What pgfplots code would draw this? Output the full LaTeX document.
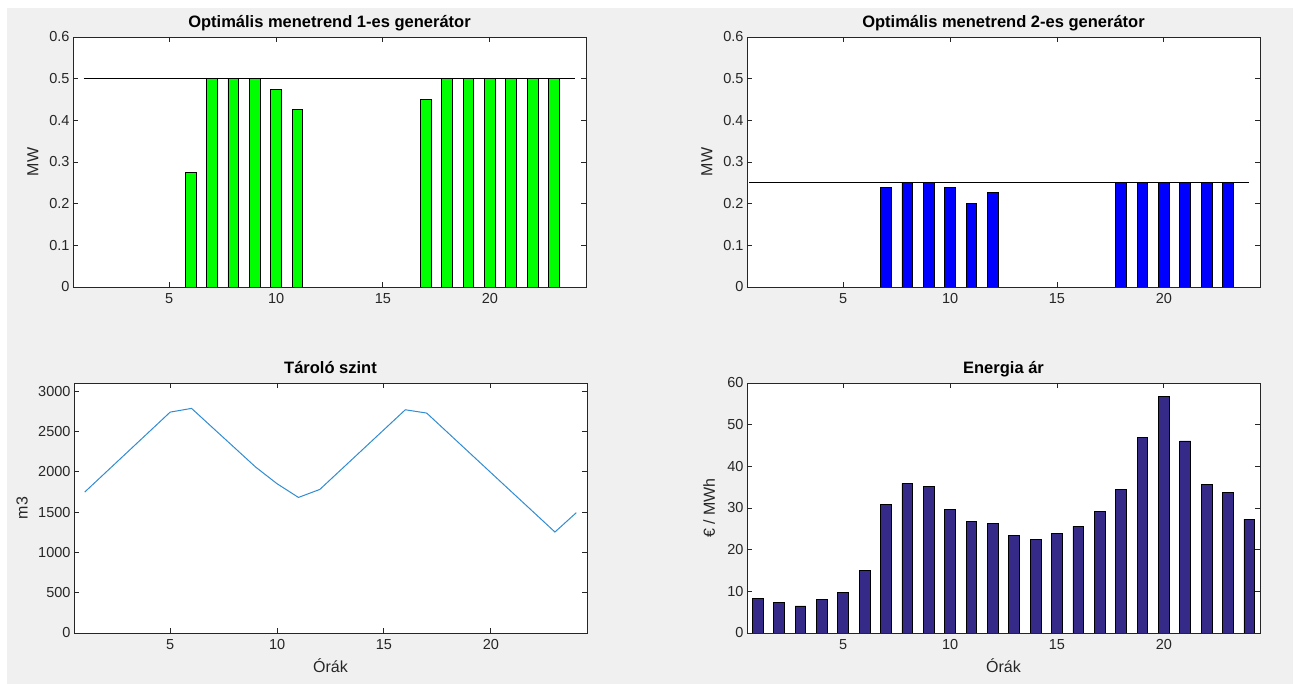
\documentclass[border=0pt]{standalone}
\usepackage{pgfplots}
\pgfplotsset{compat=1.18}
\usepackage{fontspec}
\setmainfont{Liberation Sans}
\definecolor{bg}{RGB}{240,240,240}
\definecolor{axc}{RGB}{38,38,38}
\definecolor{genone}{RGB}{0,255,0}
\definecolor{gentwo}{RGB}{0,0,255}
\definecolor{navy}{RGB}{53,42,135}
\definecolor{lineblue}{RGB}{50,140,210}
\pgfplotsset{
 mystyle/.style={
  scale only axis, width=513pt, height=250pt,
  xmin=0.5, xmax=24.5, xtick={5,10,15,20},
  axis line style={axc, line width=0.9pt},
  tick style={axc, line width=0.9pt},
  major tick length=5pt,
  tick align=inside,
  axis background/.style={fill=white},
  tick label style={font=\fontsize{14.5}{17}\selectfont, text=axc},
  xticklabel style={yshift=-3pt},
  /pgf/number format/assume math mode=true,
  /pgf/number format/1000 sep={},
  title style={font=\fontsize{16.5}{19}\selectfont\bfseries, at={(axis description cs:0.5,1)}, anchor=base, yshift=3pt},
  xlabel style={font=\fontsize{16}{19}\selectfont, text=axc, at={(axis description cs:0.5,0)}, anchor=base, yshift=-40pt},
  every axis y label/.style={font=\fontsize{16}{19}\selectfont, text=axc, at={(axis description cs:-0.078,0.5)}, rotate=90, anchor=center},
 },
 mwstyle/.style={ymin=0, ymax=0.6, ytick={0,0.1,0.2,0.3,0.4,0.5,0.6},
  yticklabel style={/pgf/number format/fixed, /pgf/number format/precision=1}, ylabel={MW}},
}
\begin{document}
\begin{tikzpicture}[x=1pt,y=1pt]
\fill[white] (0,0) rectangle (1298,684);
\fill[bg] (7,0) rectangle (1293,676);
\useasboundingbox (0,0) rectangle (1298,684);

% Top-left: generator 1
\begin{axis}[mystyle, mwstyle, at={(73pt,397pt)}, anchor=south west,
  title={Optimális menetrend 1-es generátor}]
\addplot[ybar, bar width=0.5, fill=genone, draw=black, line width=0.8pt] coordinates {
(6,0.275)(7,0.5)(8,0.5)(9,0.5)(10,0.475)(11,0.427)
(17,0.451)(18,0.5)(19,0.5)(20,0.5)(21,0.5)(22,0.5)(23,0.5)};
\addplot[black, line width=0.9pt] coordinates {(1,0.5)(24,0.5)};
\end{axis}

% Top-right: generator 2
\begin{axis}[mystyle, mwstyle, at={(747pt,397pt)}, anchor=south west,
  title={Optimális menetrend 2-es generátor}]
\addplot[ybar, bar width=0.5, fill=gentwo, draw=black, line width=0.8pt] coordinates {
(7,0.238)(8,0.25)(9,0.25)(10,0.238)(11,0.2)(12,0.227)
(18,0.25)(19,0.25)(20,0.25)(21,0.25)(22,0.25)(23,0.25)};
\addplot[black, line width=0.9pt] coordinates {(0.6,0.25)(24,0.25)};
\end{axis}

% Bottom-left: storage level
\begin{axis}[mystyle, at={(74pt,51pt)}, anchor=south west,
  title={Tároló szint}, xlabel={Órák}, ylabel={m3},
  ymin=0, ymax=3100, ytick={0,500,1000,1500,2000,2500,3000},
  every axis y label/.append style={at={(axis description cs:-0.101,0.5)}}]
\addplot[lineblue, line width=1pt] coordinates {
(1,1747)(2,1995)(3,2243)(4,2491)(5,2739)(6,2785)(7,2542)(8,2300)
(9,2057)(10,1851)(11,1681)(12,1780)(13,2027)(14,2274)(15,2521)(16,2768)
(17,2727)(18,2481)(19,2235)(20,1989)(21,1743)(22,1498)(23,1252)(24,1492)};
\end{axis}

% Bottom-right: energy price
\begin{axis}[mystyle, at={(747pt,51pt)}, anchor=south west,
  title={Energia ár}, xlabel={Órák}, ylabel={€ / MWh},
  ymin=0, ymax=60, ytick={0,10,20,30,40,50,60},
  every axis y label/.append style={at={(axis description cs:-0.074,0.5)}}]
\addplot[ybar, bar width=0.5, fill=navy, draw=black, line width=0.8pt] coordinates {
(1,8.3)(2,7.3)(3,6.5)(4,8.1)(5,9.7)(6,15.1)(7,30.8)(8,35.9)
(9,35.1)(10,29.7)(11,26.7)(12,26.2)(13,23.5)(14,22.4)(15,23.8)(16,25.6)
(17,29.2)(18,34.5)(19,46.9)(20,56.8)(21,46.1)(22,35.6)(23,33.7)(24,27.3)};
\end{axis}
\end{tikzpicture}
\end{document}
